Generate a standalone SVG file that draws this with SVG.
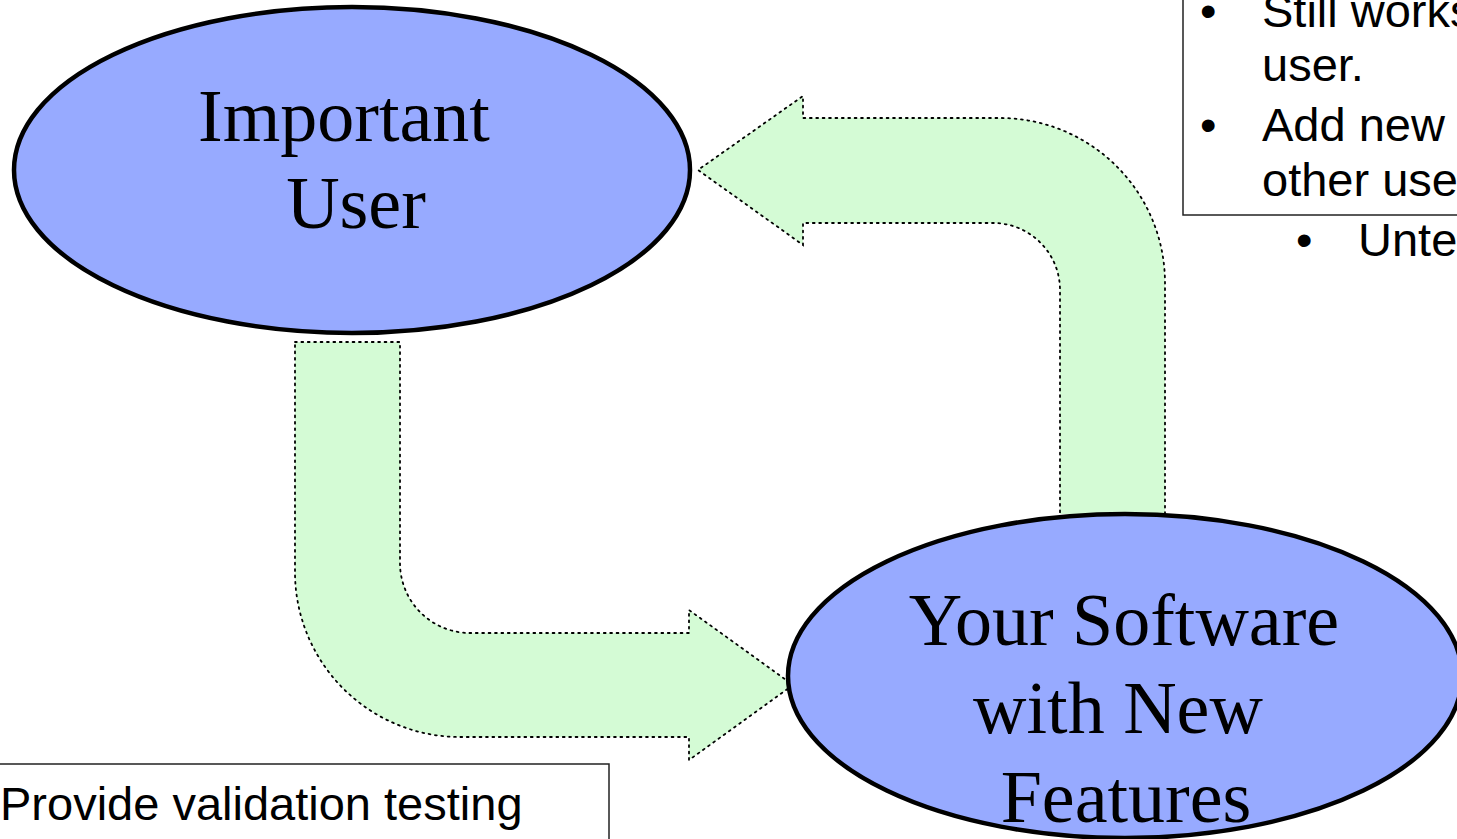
<svg xmlns="http://www.w3.org/2000/svg" width="1457" height="839" viewBox="0 0 1457 839">
<style>
.arrow{fill:#D4FBD5;stroke:#000;stroke-width:1.8;stroke-dasharray:1.8 4.6;stroke-linecap:round}
.node{fill:#97AAFF;stroke:#000;stroke-width:4.5}
.ntext{font-family:"Liberation Serif","Times New Roman",serif;font-size:74px;fill:#000;text-anchor:middle}
.box{fill:#fff;stroke:#222;stroke-width:1.5}
.btext{font-family:"Liberation Sans",Arial,sans-serif;font-size:47px;fill:#000}
</style>
<rect width="1457" height="839" fill="#fff"/>
<g id="connectors">
<path class="arrow" d="M 295 342 L 400 342 L 400 563 A 70 70 0 0 0 470 633 L 689 633 L 689 610 L 793 685 L 689 760 L 689 737 L 460 737 A 165 165 0 0 1 295 572 Z"/>
<path class="arrow" d="M 1165 514 L 1165 283 A 165 165 0 0 0 1000 118 L 803 118 L 803 96 L 698 170 L 803 245 L 803 223 L 993 223 A 67 67 0 0 1 1060 290 L 1060 514"/>
</g>
<g id="node-important-user">
<ellipse class="node" cx="352" cy="170" rx="338" ry="163"/>
<text class="ntext" x="344" y="141">Important</text>
<text class="ntext" x="356" y="228">User</text>
</g>
<g id="node-your-software">
<ellipse class="node" cx="1125" cy="676" rx="337" ry="162"/>
<text class="ntext" x="1124" y="645">Your Software</text>
<text class="ntext" x="1118" y="733">with New</text>
<text class="ntext" x="1126" y="822">Features</text>
</g>
<g id="note-top-right">
<rect class="box" x="1183" y="-10" width="300" height="225"/>
<text class="btext" x="1200" y="27">•</text>
<text class="btext" x="1262" y="27">Still works</text>
<text class="btext" x="1262" y="81">user.</text>
<text class="btext" x="1200" y="141">•</text>
<text class="btext" x="1262" y="141">Add new</text>
<text class="btext" x="1262" y="196">other use</text>
<text class="btext" x="1296" y="256">•</text>
<text class="btext" x="1358" y="256">Unte</text>
</g>
<g id="note-bottom-left">
<rect class="box" x="-5" y="764" width="614" height="100"/>
<text class="btext" x="0" y="820">Provide validation testing</text>
</g>
</svg>
